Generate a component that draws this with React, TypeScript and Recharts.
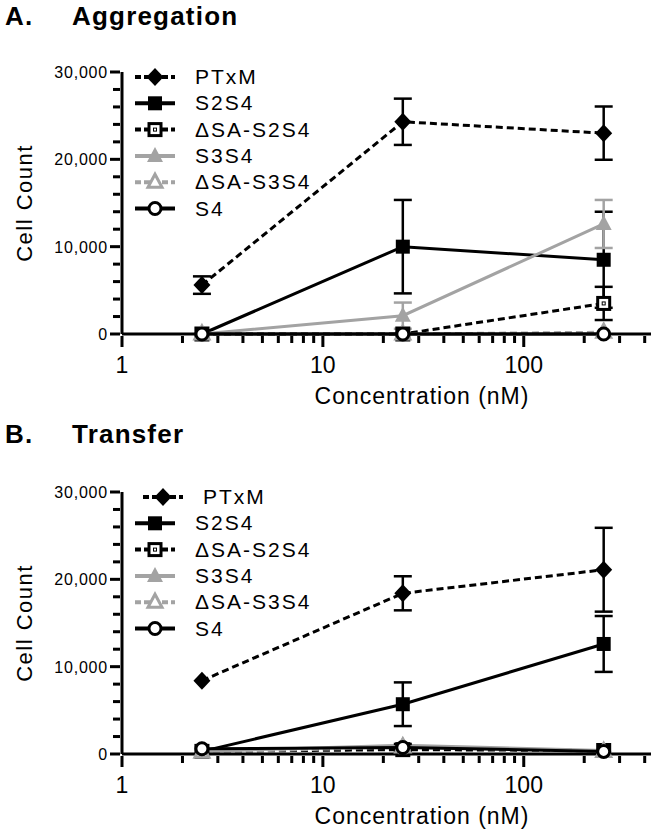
import React from "react";
import { ErrorBar, Legend, Line, LineChart, XAxis, YAxis } from "recharts";

// concentrations (nM)
const concentrations = [2.5, 25, 250];

// A. Aggregation
const aggPTxM = [5600, 24300, 23000];
const aggPTxMErr = [1000, 2650, 3050];
const aggS2S4 = [0, 10000, 8500];
const aggS2S4Err = [0, 5350, 5500];
const aggDeltaS2S4 = [0, 0, 3500];
const aggDeltaS2S4Err = [0, 0, 1900];
const aggS3S4 = [0, 2100, 12600];
const aggS3S4Err = [0, 1500, 2750];
const aggDeltaS3S4 = [0, 0, 200];
const aggDeltaS3S4Err = [0, 0, 0];
const aggS4 = [0, 0, 0];
const aggS4Err = [0, 0, 0];

// B. Transfer
const trPTxM = [8400, 18400, 21100];
const trPTxMErr = [0, 1950, 4800];
const trS2S4 = [300, 5700, 12600];
const trS2S4Err = [0, 2500, 3200];
const trDeltaS2S4 = [300, 500, 400];
const trDeltaS2S4Err = [0, 0, 0];
const trS3S4 = [300, 1000, 400];
const trS3S4Err = [0, 0, 0];
const trDeltaS3S4 = [200, 800, 300];
const trDeltaS3S4Err = [0, 0, 0];
const trS4 = [600, 750, 300];
const trS4Err = [0, 400, 0];

const seriesNames = ["PTxM", "S2S4", "\u0394SA-S2S4", "S3S4", "\u0394SA-S3S4", "S4"];

const xTicks = [1, 2, 3, 4, 5, 6, 7, 8, 9, 10, 20, 30, 40, 50, 60, 70, 80, 90, 100, 200, 300, 400];
const xLabels = [1, 10, 100];
const yTicks = [0, 2000, 4000, 6000, 8000, 10000, 12000, 14000, 16000, 18000, 20000, 22000, 24000, 26000, 28000, 30000];
const yLabels = [0, 10000, 20000, 30000];

const GRAY = "#a3a3a3";
const FONT = "'Liberation Sans', Arial, sans-serif";

type Shape = "diamond" | "square" | "squareOpen" | "triangle" | "triangleOpen" | "circleOpen";

const styles: { color: string; dash?: string; shape: Shape }[] = [
  { color: "#000", dash: "7 4", shape: "diamond" },
  { color: "#000", shape: "square" },
  { color: "#000", dash: "7 4", shape: "squareOpen" },
  { color: GRAY, shape: "triangle" },
  { color: GRAY, dash: "7 4", shape: "triangleOpen" },
  { color: "#000", shape: "circleOpen" },
];

function Marker({ cx, cy, shape, color }: { cx: number; cy: number; shape: Shape; color: string }) {
  switch (shape) {
    case "diamond":
      return <polygon points={`${cx},${cy - 9} ${cx + 8.5},${cy} ${cx},${cy + 9} ${cx - 8.5},${cy}`} fill={color} />;
    case "square":
      return <rect x={cx - 7} y={cy - 7} width={14} height={14} fill={color} />;
    case "squareOpen":
      return (
        <g>
          <rect x={cx - 6} y={cy - 6} width={12} height={12} fill="#fff" stroke={color} strokeWidth={3} />
          <rect x={cx - 1.5} y={cy - 1.5} width={3} height={3} fill="none" stroke={color} strokeWidth={1} />
        </g>
      );
    case "triangle":
      return <polygon points={`${cx},${cy - 9} ${cx + 8},${cy + 6} ${cx - 8},${cy + 6}`} fill={color} />;
    case "triangleOpen":
      return (
        <polygon
          points={`${cx},${cy - 8} ${cx + 7},${cy + 5} ${cx - 7},${cy + 5}`}
          fill="#fff"
          stroke={color}
          strokeWidth={3}
        />
      );
    default:
      return <circle cx={cx} cy={cy} r={6} fill="#fff" stroke={color} strokeWidth={3} />;
  }
}

// tickSize is 0, so x/y sit on the axis line
function XTick(props: any) {
  const { x, y, payload } = props;
  const major = xLabels.includes(payload.value);
  const len = major ? 11 : 7;
  return (
    <g>
      <rect x={x - 1.5} y={y} width={3} height={len} fill="#000" />
      {major && (
        <text x={x} y={y + 37} textAnchor="middle" fontSize={23} fontFamily={FONT} fill="#000">
          {payload.value}
        </text>
      )}
    </g>
  );
}

function YTick(props: any) {
  const { x, y, payload } = props;
  const major = yLabels.includes(payload.value);
  const len = major ? 10 : 7;
  return (
    <g>
      <rect x={x - len} y={y - 1.5} width={len} height={3} fill="#000" />
      {major && (
        <text x={x - 12} y={y + 6} textAnchor="end" fontSize={16} fontFamily={FONT} letterSpacing={0.8} fill="#000">
          {payload.value.toLocaleString("en-US")}
        </text>
      )}
    </g>
  );
}

function LegendBox({ shiftFirst }: { shiftFirst: number }) {
  return (
    <svg width={260} height={165}>
      {seriesNames.map((name, i) => {
        const st = styles[i];
        const cy = 13 + i * 26.3;
        const dx = i === 0 ? shiftFirst : 0;
        return (
          <g key={name}>
            <line
              x1={2 + dx}
              y1={cy}
              x2={42 + dx}
              y2={cy}
              stroke={st.color}
              strokeWidth={4}
              strokeDasharray={st.dash ? "6 3" : undefined}
            />
            <Marker cx={22 + dx} cy={cy} shape={st.shape} color={st.color} />
            <text x={62 + dx} y={cy + 7} fontSize={21} fontFamily={FONT} letterSpacing={2} fill="#000">
              {name}
            </text>
          </g>
        );
      })}
    </svg>
  );
}

type PanelProps = {
  letter: string;
  title: string;
  height: number;
  plotTop: number;
  values: number[][];
  errors: number[][];
  shiftFirst: number;
};

function Panel({ letter, title, height, plotTop, values, errors, shiftFirst }: PanelProps) {
  const axisH = height - plotTop - 262;
  const rows = concentrations.map((c, i) => {
    const row: Record<string, number> = { conc: c };
    values.forEach((v, s) => {
      row["s" + s] = v[i];
      if (errors[s][i]) row["e" + s] = errors[s][i];
    });
    return row;
  });
  const plotMid = plotTop + 131;
  const titleStyle = { position: "absolute" as const, top: 1, fontSize: 26, fontWeight: "bold" as const, letterSpacing: 1.2 };
  return (
    <div style={{ position: "relative", width: 658, height, fontFamily: FONT }}>
      <LineChart width={658} height={height} data={rows} margin={{ top: plotTop, right: 7, bottom: 0, left: 0 }}>
        <XAxis
          dataKey="conc"
          type="number"
          scale="log"
          domain={[1, 430]}
          ticks={xTicks}
          interval={0}
          tick={<XTick />}
          tickLine={false}
          tickSize={0}
          height={axisH}
          axisLine={{ stroke: "#000", strokeWidth: 3 }}
        />
        <YAxis
          type="number"
          domain={[0, 30000]}
          ticks={yTicks}
          interval={0}
          tick={<YTick />}
          tickLine={false}
          tickSize={0}
          width={122}
          axisLine={{ stroke: "#000", strokeWidth: 3 }}
        />
        <Legend
          layout="vertical"
          align="center"
          verticalAlign="middle"
          wrapperStyle={{ left: 133, top: plotTop - 8, width: 260 }}
          content={() => <LegendBox shiftFirst={shiftFirst} />}
        />
        {values.map((_, s) => {
          const st = styles[s];
          return (
            <Line
              key={s}
              dataKey={"s" + s}
              name={seriesNames[s]}
              stroke={st.color}
              strokeWidth={3}
              strokeDasharray={st.dash}
              isAnimationActive={false}
              dot={(p: any) => <Marker key={`m${s}-${p.index}`} cx={p.cx} cy={p.cy} shape={st.shape} color={st.color} />}
              activeDot={false}
            >
              {errors[s].some((e) => e > 0) && (
                <ErrorBar dataKey={"e" + s} direction="y" width={9} stroke={st.color} strokeWidth={2.5} />
              )}
            </Line>
          );
        })}
      </LineChart>
      <div style={{ ...titleStyle, left: 5 }}>{letter}</div>
      <div style={{ ...titleStyle, left: 72 }}>{title}</div>
      <div
        style={{
          position: "absolute",
          left: 25,
          top: plotMid,
          transform: "translate(-50%, -50%) rotate(-90deg)",
          whiteSpace: "nowrap",
          fontSize: 22,
          letterSpacing: 1.5,
        }}
      >
        Cell Count
      </div>
      <div
        style={{
          position: "absolute",
          left: 422,
          top: plotTop + 262 + 62,
          transform: "translate(-50%, -50%)",
          whiteSpace: "nowrap",
          fontSize: 23,
          letterSpacing: 1,
        }}
      >
        Concentration (nM)
      </div>
    </div>
  );
}

export default function App() {
  return (
    <div style={{ position: "absolute", left: 0, top: 0, width: 658, height: 837, background: "#fff" }}>
      <Panel
        letter="A."
        title="Aggregation"
        height={418}
        plotTop={72}
        values={[aggPTxM, aggS2S4, aggDeltaS2S4, aggS3S4, aggDeltaS3S4, aggS4]}
        errors={[aggPTxMErr, aggS2S4Err, aggDeltaS2S4Err, aggS3S4Err, aggDeltaS3S4Err, aggS4Err]}
        shiftFirst={0}
      />
      <Panel
        letter="B."
        title="Transfer"
        height={419}
        plotTop={74}
        values={[trPTxM, trS2S4, trDeltaS2S4, trS3S4, trDeltaS3S4, trS4]}
        errors={[trPTxMErr, trS2S4Err, trDeltaS2S4Err, trS3S4Err, trDeltaS3S4Err, trS4Err]}
        shiftFirst={8}
      />
    </div>
  );
}
